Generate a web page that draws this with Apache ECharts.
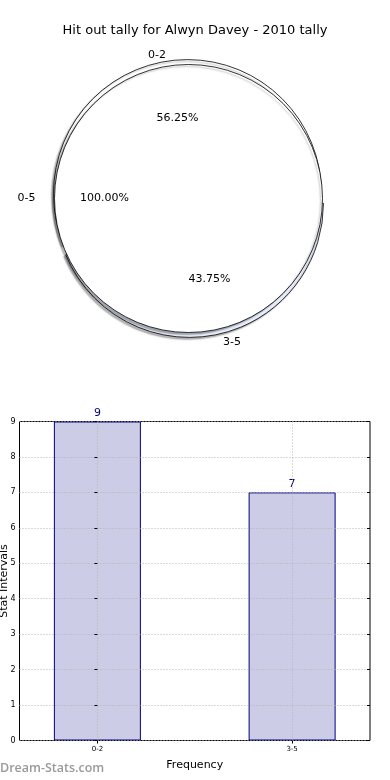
<!DOCTYPE html>
<html>
<head>
<meta charset="utf-8">
<script src="https://cdn.jsdelivr.net/npm/echarts@6/dist/echarts.min.js"></script>
<style>
html,body{margin:0;padding:0;background:#fff;}
#c{width:390px;height:780px;}
</style>
</head>
<body>
<div id="c"></div>
<script>
// ---- data ----
const titleText = 'Hit out tally for Alwyn Davey - 2010 tally';
const pieCategories = ['0-2', '3-5'];
const pieValues = [9, 7];
const pieColors = ['#ffffff', '#e8eefb'];
const totalCategories = ['0-5'];
const totalValues = [16];
const barCategories = ['0-2', '3-5'];
const barValues = [9, 7];
const barPositions = [0, 1];
const yMin = 0, yMax = 9, yStep = 1;
const xAxisName = 'Frequency';
const yAxisName = 'Stat Intervals';
const watermark = 'Dream-Stats.com';

const FONT = 'DejaVu Sans';
const C = [188.5, 198.5];
const R = 134;

const chart = echarts.init(document.getElementById('c'), null, {renderer: 'canvas'});

const shadow = {shadowBlur: 1.5, shadowOffsetX: -2, shadowOffsetY: 2, shadowColor: 'rgba(0,0,0,0.3)'};
const gridLine = {type: [1, 2], color: '#b4b4b4', width: 1};

const option = {
  animation: false,
  textStyle: {fontFamily: FONT},
  title: {
    text: titleText, left: 'center', top: 19,
    textStyle: {fontFamily: FONT, fontSize: 13, fontWeight: 'normal', color: '#000'}
  },
  graphic: [{
    type: 'text', left: 0, top: 762,
    style: {text: watermark, fontFamily: 'Open Sans', fontSize: 12.5, fontWeight: 600, fill: '#9a9a9a'}
  }],
  grid: {left: 19.5, right: 20, top: 421.5, bottom: 39.5, outerBoundsMode: 'none', containLabel: false,
    show: true, borderColor: '#000', borderWidth: 1, backgroundColor: 'transparent'},
  xAxis: {
    type: 'value', min: -0.4, max: 1.4, z: 5,
    axisLine: {show: false},
    axisTick: {show: true, customValues: barPositions, length: 3, lineStyle: {color: '#000'}},
    axisLabel: {customValues: barPositions, formatter: v => barCategories[Math.round(v)], fontSize: 7, color: '#000', margin: 5, fontFamily: FONT},
    splitLine: {show: true, lineStyle: gridLine},
    name: xAxisName, nameLocation: 'middle', nameGap: 19, nameMoveOverlap: false,
    nameTextStyle: {fontSize: 11, color: '#000', fontFamily: FONT}
  },
  yAxis: [{
    type: 'value', min: yMin, max: yMax, interval: yStep, z: 5,
    axisLine: {show: false},
    axisTick: {show: true, length: 3, lineStyle: {color: '#000'}},
    axisLabel: {fontSize: 8, color: '#000', margin: 4, fontFamily: FONT},
    splitLine: {show: true, lineStyle: gridLine},
    name: yAxisName, nameLocation: 'middle', nameRotate: 90, nameGap: 10, nameMoveOverlap: false,
    nameTextStyle: {fontSize: 11, color: '#000', fontFamily: FONT}
  }, {
    type: 'value', min: yMin, max: yMax, interval: yStep, position: 'right', z: 5,
    axisLine: {show: false},
    axisTick: {show: true, inside: true, length: 3, lineStyle: {color: '#000'}},
    axisLabel: {show: false},
    splitLine: {show: false}
  }],
  series: [
    {
      type: 'pie', center: C, radius: R, startAngle: 0, clockwise: false,
      silent: true, avoidLabelOverlap: false, selectedMode: 'multiple', selectedOffset: 5,
      data: pieCategories.map((n, i) => ({name: n, value: pieValues[i], selected: true,
        itemStyle: {color: pieColors[i]}})),
      itemStyle: Object.assign({borderColor: '#000', borderWidth: 0.8}, shadow),
      label: {show: true, position: 'outside', formatter: '{b}', fontSize: 11, color: '#000', fontFamily: FONT, distanceToLabelLine: 0},
      labelLine: {show: false, length: 7, length2: 0},
      labelLayout: () => ({dx: 6}),
      emphasis: {disabled: true}, z: 1
    },
    {
      type: 'pie', center: C, radius: R, startAngle: 0, clockwise: false,
      silent: true, avoidLabelOverlap: false,
      data: totalCategories.map((n, i) => ({name: n, value: totalValues[i]})),
      itemStyle: Object.assign({color: '#fff', borderColor: '#000', borderWidth: 0.8}, shadow),
      label: {show: true, position: 'outside', formatter: '{b}', fontSize: 11, color: '#000', fontFamily: FONT, distanceToLabelLine: 0},
      labelLine: {show: false, length: 19, length2: 0},
      emphasis: {disabled: true}, z: 2
    },
    {
      type: 'pie', center: C, radius: [0, 158], startAngle: 0, clockwise: false,
      silent: true, avoidLabelOverlap: false,
      data: pieCategories.map((n, i) => ({name: n, value: pieValues[i]})),
      itemStyle: {color: 'rgba(0,0,0,0)', borderWidth: 0},
      label: {show: true, position: 'inside', formatter: p => p.percent.toFixed(2) + '%', fontSize: 11, color: '#000', fontFamily: FONT, offset: [5, 0]},
      labelLine: {show: false},
      emphasis: {disabled: true}, z: 3
    },
    {
      type: 'pie', center: C, radius: [0, 162], startAngle: 0, clockwise: false,
      silent: true, avoidLabelOverlap: false,
      data: totalCategories.map((n, i) => ({name: n, value: totalValues[i]})),
      itemStyle: {color: 'rgba(0,0,0,0)', borderWidth: 0},
      label: {show: true, position: 'inside', formatter: p => p.percent.toFixed(2) + '%', fontSize: 11, color: '#000', fontFamily: FONT},
      labelLine: {show: false},
      emphasis: {disabled: true}, z: 3
    },
    {
      type: 'bar', xAxisIndex: 0, yAxisIndex: 0,
      data: barValues.map((v, i) => [barPositions[i], v]),
      barWidth: 87,
      itemStyle: {color: '#ccccE6', borderColor: '#000080', borderWidth: 1},
      label: {show: true, position: 'top', distance: 3, color: '#000080', fontSize: 11, fontFamily: FONT},
      emphasis: {disabled: true}, silent: true, z: 2
    }
  ]
};
chart.setOption(option);
</script>
</body>
</html>
